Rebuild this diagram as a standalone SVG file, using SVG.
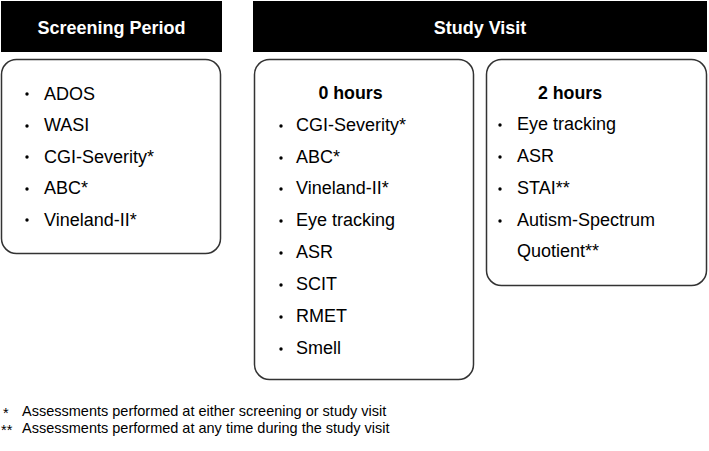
<svg xmlns="http://www.w3.org/2000/svg" width="709" height="451" viewBox="0 0 709 451">
<style>
text{font-family:"Liberation Sans",Arial,sans-serif;fill:#000}
.hd{fill:#000}
.ht{fill:#fff;font-weight:bold;font-size:18px;text-anchor:middle}
.box{fill:#fff;stroke:#333;stroke-width:1.5}
.it{font-size:18px}
.sub{font-size:17.8px;font-weight:bold;text-anchor:middle}
.fn{font-size:14.5px}
.bl{fill:#000}
</style>
<rect width="709" height="451" fill="#fff"/>
<g id="screening-header">
<rect class="hd" x="1" y="1" width="221" height="51"/>
<text class="ht" x="111.5" y="34">Screening Period</text>
</g>
<g id="study-header">
<rect class="hd" x="253" y="1" width="454" height="51"/>
<text class="ht" x="480" y="34">Study Visit</text>
</g>
<g id="screening-box">
<rect class="box" x="1.5" y="59.5" width="219" height="194" rx="15"/>
<g class="bl">
<circle cx="27" cy="94" r="1.7"/><circle cx="27" cy="126" r="1.7"/><circle cx="27" cy="157" r="1.7"/><circle cx="27" cy="189" r="1.7"/><circle cx="27" cy="220" r="1.7"/>
</g>
<g class="it">
<text x="44" y="99.5">ADOS</text>
<text x="44" y="131">WASI</text>
<text x="44" y="162.5">CGI-Severity*</text>
<text x="44" y="194">ABC*</text>
<text x="44" y="225.5">Vineland-II*</text>
</g>
</g>
<g id="hours0-box">
<rect class="box" x="254.5" y="59.5" width="219" height="320" rx="15"/>
<text class="sub" x="350.5" y="99">0 hours</text>
<g class="bl">
<circle cx="281" cy="126" r="1.7"/><circle cx="281" cy="158" r="1.7"/><circle cx="281" cy="189" r="1.7"/><circle cx="281" cy="221" r="1.7"/><circle cx="281" cy="253" r="1.7"/><circle cx="281" cy="285" r="1.7"/><circle cx="281" cy="317" r="1.7"/><circle cx="281" cy="349" r="1.7"/>
</g>
<g class="it">
<text x="296" y="131">CGI-Severity*</text>
<text x="296" y="163">ABC*</text>
<text x="296" y="194">Vineland-II*</text>
<text x="296" y="226">Eye tracking</text>
<text x="296" y="258">ASR</text>
<text x="296" y="290">SCIT</text>
<text x="296" y="322">RMET</text>
<text x="296" y="354">Smell</text>
</g>
</g>
<g id="hours2-box">
<rect class="box" x="486.5" y="59.5" width="220" height="226" rx="15"/>
<text class="sub" x="570" y="99">2 hours</text>
<g class="bl">
<circle cx="500" cy="125" r="1.7"/><circle cx="500" cy="157" r="1.7"/><circle cx="500" cy="189" r="1.7"/><circle cx="500" cy="221" r="1.7"/>
</g>
<g class="it">
<text x="517" y="130">Eye tracking</text>
<text x="517" y="162">ASR</text>
<text x="517" y="194">STAI**</text>
<text x="517" y="226">Autism-Spectrum</text>
<text x="517" y="257">Quotient**</text>
</g>
</g>
<g id="connectors"></g>
<g id="footnotes" class="fn">
<text x="3" y="418">*</text><text x="22" y="416">Assessments performed at either screening or study visit</text>
<text x="1" y="435">**</text><text x="22" y="433">Assessments performed at any time during the study visit</text>
</g>
</svg>
